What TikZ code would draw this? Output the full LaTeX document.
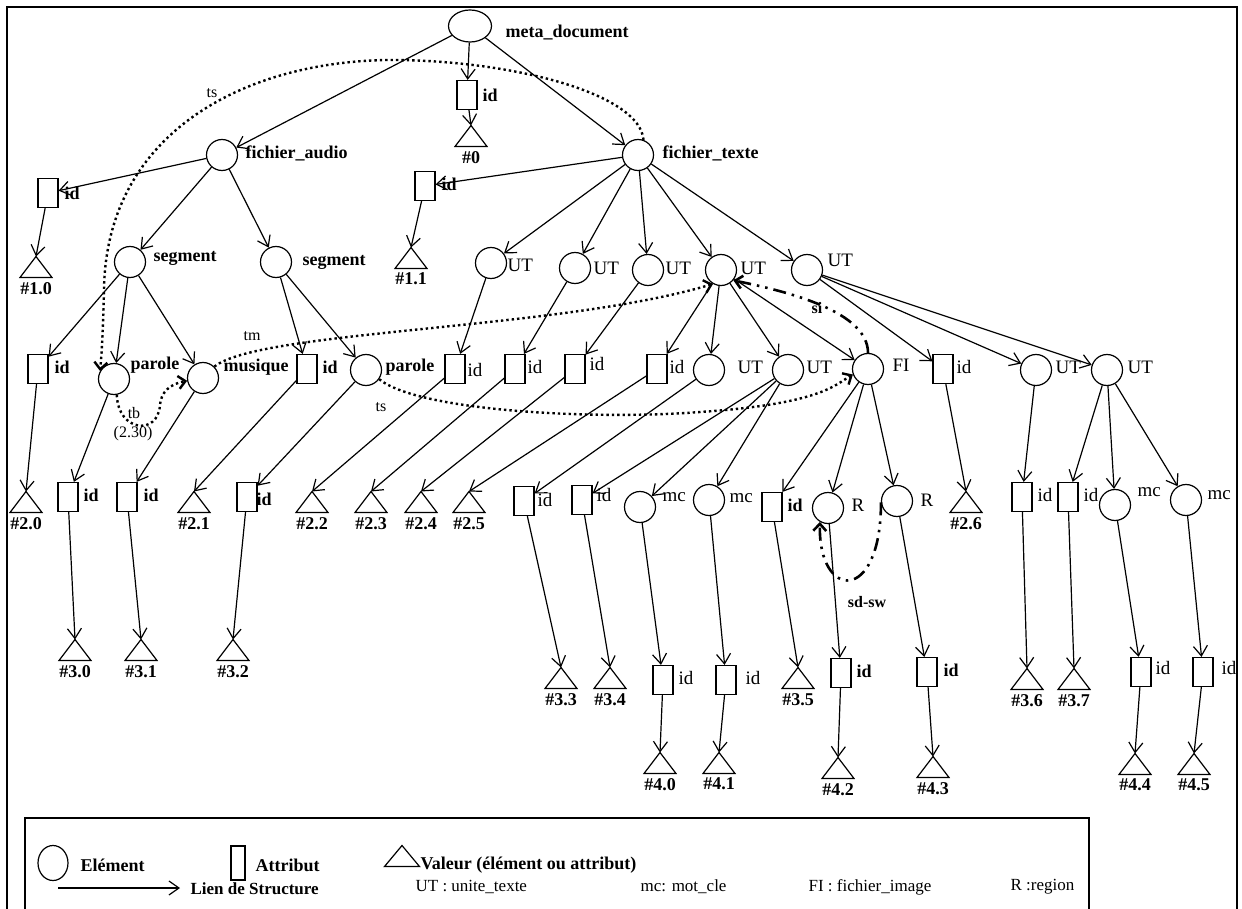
\documentclass[tikz,border=0pt]{standalone}
\usepackage{fontspec}
\setmainfont{Liberation Serif}
\usetikzlibrary{arrows.meta, positioning, shapes.geometric}

\begin{document}
\begin{tikzpicture}[x=1pt, y=-1pt, line width=1.2pt,
  el/.style={draw, ellipse, minimum width=31pt, minimum height=31pt, inner sep=0pt},
  att/.style={draw, rectangle, minimum width=20pt, minimum height=29pt, inner sep=0pt},
  val/.style={minimum width=32pt, minimum height=21pt, inner sep=0pt, outer sep=0pt,
    append after command={\pgfextra{\draw (\tikzlastnode.south west) -- (\tikzlastnode.north) -- (\tikzlastnode.south east) -- cycle;}}},
  lab/.style={font=\fontsize{18}{20}\selectfont\bfseries, inner sep=0pt, anchor=west},
  lbl/.style={font=\fontsize{19}{21}\selectfont, inner sep=0pt, anchor=west},
  vlab/.style={font=\fontsize{18}{20}\selectfont\bfseries, inner sep=0pt},
  rel/.style={font=\fontsize{16}{18}\selectfont, inner sep=0pt},
  relb/.style={font=\fontsize{16}{18}\selectfont\bfseries, inner sep=0pt},
  leg/.style={font=\fontsize{18}{20}\selectfont\bfseries, inner sep=0pt, anchor=west},
  legr/.style={font=\fontsize{17}{19}\selectfont, inner sep=0pt, anchor=west},
  a/.style={-{Straight Barb[length=10pt, width=14pt]}},
  dotlink/.style={line width=2.4pt, dash pattern=on 2.4pt off 3pt,
    -{Straight Barb[length=7pt, width=13pt, line width=2.4pt]}},
  dashlink/.style={line width=2.6pt, dash pattern=on 13pt off 6pt on 2.5pt off 6pt on 2.5pt off 6pt,
    -{Straight Barb[length=7pt, width=13pt, line width=2.6pt]}}
]
\useasboundingbox (0,0) rectangle (1242,909);
\draw[line width=2.2pt] (7,909) -- (7,7) -- (1237,7) -- (1237,909);

% racine
\node[el, minimum width=43pt, minimum height=32pt] (meta) at (470,26) {};
\node[att] (id0) at (467,95) {};
\node[val] (v0) at (471,136) {};
\node[el] (fa) at (222,155) {};
\node[el] (ft) at (638,155) {};
\node[att] (ida) at (48,193) {};
\node[val] (v10) at (36,267) {};
\node[att] (idt) at (425,186) {};
\node[val] (v11) at (411,258) {};

% niveau segments / UT
\node[el] (sg1) at (130,262) {};
\node[el] (sg2) at (276,262) {};
\node[el] (uta) at (491,263) {};
\node[el] (utb) at (575,268) {};
\node[el] (utc) at (648,270) {};
\node[el] (utd) at (721,270) {};
\node[el] (ute) at (807,270) {};

% troisieme niveau
\node[att] (id20) at (38,369) {};
\node[el] (p1) at (114,379) {};
\node[el] (mu) at (203,378) {};
\node[att] (id21) at (307,369) {};
\node[el] (p2) at (366,370) {};
\node[att] (id22) at (455,369) {};
\node[att] (id23) at (515,369) {};
\node[att] (id24) at (575,369) {};
\node[att] (id25) at (657,369) {};
\node[el] (utf) at (709,370) {};
\node[el] (utg) at (788,370) {};
\node[el] (fi) at (868,369) {};
\node[att] (id26) at (943,369) {};
\node[el] (uth) at (1036,370) {};
\node[el] (uti) at (1107,370) {};

% quatrieme niveau
\node[val] (v20) at (26,502) {};
\node[att] (id30) at (68,497) {};
\node[att] (id31) at (127,497) {};
\node[val] (v21) at (194,502) {};
\node[att] (id32) at (247,497) {};
\node[val] (v22) at (312,502) {};
\node[val] (v23) at (371,502) {};
\node[val] (v24) at (421,502) {};
\node[val] (v25) at (469,502) {};
\node[att] (id33) at (524,501) {};
\node[att] (id34) at (582,500) {};
\node[el] (mc1) at (640,507) {};
\node[el] (mc2) at (709,500) {};
\node[att] (id35) at (772,507) {};
\node[el] (r1) at (828,508) {};
\node[el] (r2) at (897,501) {};
\node[val] (v26) at (966,502) {};
\node[att] (id36) at (1022,497) {};
\node[att] (id37) at (1068,497) {};
\node[el] (mc3) at (1115,505) {};
\node[el] (mc4) at (1186,500) {};

% cinquieme niveau
\node[val] (v30) at (75,650) {};
\node[val] (v31) at (141,650) {};
\node[val] (v32) at (233,650) {};
\node[val] (v33) at (561,678) {};
\node[val] (v34) at (610,678) {};
\node[att] (id40) at (663,680) {};
\node[att] (id41) at (726,680) {};
\node[val] (v35) at (798,678) {};
\node[att] (id42) at (841,673) {};
\node[att] (id43) at (927,672) {};
\node[val] (v36) at (1027,679) {};
\node[val] (v37) at (1074,679) {};
\node[att] (id44) at (1141,672) {};
\node[att] (id45) at (1203,672) {};
\node[val] (v40) at (660,763) {};
\node[val] (v41) at (719,763) {};
\node[val] (v42) at (838,768) {};
\node[val] (v43) at (933,767) {};
\node[val] (v44) at (1135,764) {};
\node[val] (v45) at (1194,764) {};

% etiquettes
\node[lab] (lmeta) at (505,33) {meta\_document};
\node[lab] (lid0) at (482,95) {id};
\node[lab] (lfa) at (245,153) {fichier\_audio};
\node[lab] (lft) at (662,153) {fichier\_texte};
\node[lab] (lida) at (64,193) {id};
\node[lab] (lidt) at (441,184) {id};
\node[lab] (lsg1) at (153,258) {segment};
\node[lab] (lsg2) at (302,262) {segment};
\node[lbl] (luta) at (507,265) {UT};
\node[lbl] (lutb) at (593,268) {UT};
\node[lbl] (lutc) at (665,268) {UT};
\node[lbl] (lutd) at (740,268) {UT};
\node[lbl] (lute) at (827,260) {UT};
\node[lab] (lid20) at (54,367) {id};
\node[lab] (lp1) at (130,365) {parole};
\node[lab] (lmu) at (223,367) {musique};
\node[lab] (lid21) at (322,367) {id};
\node[lab] (lp2) at (385,367) {parole};
\node[lbl] (lid22) at (467,370) {id};
\node[lbl] (lid23) at (527,367) {id};
\node[lbl] (lid24) at (589,364) {id};
\node[lbl] (lid25) at (669,367) {id};
\node[lbl] (lutf) at (737,367) {UT};
\node[lbl] (lutg) at (806,367) {UT};
\node[lbl] (lfi) at (892,365) {FI};
\node[lbl] (lid26) at (956,367) {id};
\node[lbl] (luth) at (1055,367) {UT};
\node[lbl] (luti) at (1127,367) {UT};
\node[lab] (lid30) at (83,495) {id};
\node[lab] (lid31) at (143,495) {id};
\node[lab] (lid32) at (256,499) {id};
\node[lbl] (lid33) at (537,500) {id};
\node[lbl] (lid34) at (596,495) {id};
\node[lbl] (lmc1) at (662,497) {mc};
\node[lbl] (lmc2) at (729,498) {mc};
\node[lab] (lid35) at (787,505) {id};
\node[lbl] (lr1) at (851,505) {R};
\node[lbl] (lr2) at (920,500) {R};
\node[lbl] (lid36) at (1037,495) {id};
\node[lbl] (lid37) at (1083,495) {id};
\node[lbl] (lmc3) at (1137,492) {mc};
\node[lbl] (lmc4) at (1207,495) {mc};
\node[lbl] (lid40) at (678,678) {id};
\node[lbl] (lid41) at (745,678) {id};
\node[lab] (lid42) at (856,671) {id};
\node[lab] (lid43) at (943,670) {id};
\node[lbl] (lid44) at (1155,668) {id};
\node[lbl] (lid45) at (1221,668) {id};

% valeurs
\node[vlab, below=4pt of v0] (lv0) {\#0};
\node[vlab, below=4pt of v10] (lv10) {\#1.0};
\node[vlab, below=4pt of v11] (lv11) {\#1.1};
\node[vlab, below=4pt of v20] (lv20) {\#2.0};
\node[vlab, below=4pt of v21] (lv21) {\#2.1};
\node[vlab, below=4pt of v22] (lv22) {\#2.2};
\node[vlab, below=4pt of v23] (lv23) {\#2.3};
\node[vlab, below=4pt of v24] (lv24) {\#2.4};
\node[vlab, below=4pt of v25] (lv25) {\#2.5};
\node[vlab, below=4pt of v26] (lv26) {\#2.6};
\node[vlab, below=4pt of v30] (lv30) {\#3.0};
\node[vlab, below=4pt of v31] (lv31) {\#3.1};
\node[vlab, below=4pt of v32] (lv32) {\#3.2};
\node[vlab, below=4pt of v33] (lv33) {\#3.3};
\node[vlab, below=4pt of v34] (lv34) {\#3.4};
\node[vlab, below=4pt of v35] (lv35) {\#3.5};
\node[vlab, below=4pt of v36] (lv36) {\#3.6};
\node[vlab, below=4pt of v37] (lv37) {\#3.7};
\node[vlab, below=4pt of v40] (lv40) {\#4.0};
\node[vlab, below=4pt of v41] (lv41) {\#4.1};
\node[vlab, below=4pt of v42] (lv42) {\#4.2};
\node[vlab, below=4pt of v43] (lv43) {\#4.3};
\node[vlab, below=4pt of v44] (lv44) {\#4.4};
\node[vlab, below=4pt of v45] (lv45) {\#4.5};

% liens de structure
\draw[a] (meta) -- (fa);
\draw[a] (meta) -- (id0);
\draw[a] (meta) -- (ft);
\draw[a] (id0) -- (v0.north);
\draw[a] (fa) -- (ida);
\draw[a] (fa) -- (sg1);
\draw[a] (fa) -- (sg2);
\draw[a] (ida) -- (v10.north);
\draw[a] (ft) -- (idt);
\draw[a] (ft) -- (uta);
\draw[a] (ft) -- (utb);
\draw[a] (ft) -- (utc);
\draw[a] (ft) -- (utd);
\draw[a] (ft) -- (ute);
\draw[a] (idt) -- (v11.north);
\draw[a] (sg1) -- (id20);
\draw[a] (sg1) -- (p1);
\draw[a] (sg1) -- (mu);
\draw[a] (sg2) -- (id21);
\draw[a] (sg2) -- (p2);
\draw[a] (id20) -- (v20.north);
\draw[a] (p1) -- (id30);
\draw[a] (mu) -- (id31);
\draw[a] (id21) -- (v21.north);
\draw[a] (p2) -- (id32);
\draw[a] (uta) -- (id22);
\draw[a] (utb) -- (id23);
\draw[a] (utc) -- (id24);
\draw[a] (utd) -- (id25);
\draw[a] (utd) -- (utf);
\draw[a] (utd) -- (utg);
\draw[a] (utd) -- (fi);
\draw[a] (id22) -- (v22.north);
\draw[a] (id23) -- (v23.north);
\draw[a] (id24) -- (v24.north);
\draw[a] (id25) -- (v25.north);
\draw[a] (utf) -- (id33);
\draw[a] (utg) -- (id34);
\draw[a] (utg) -- (mc1);
\draw[a] (utg) -- (mc2);
\draw[a] (fi) -- (id35);
\draw[a] (fi) -- (r1);
\draw[a] (fi) -- (r2);
\draw[a] (ute) -- (id26);
\draw[a] (ute) -- (uth);
\draw[a] (ute) -- (uti);
\draw[a] (id26) -- (v26.north);
\draw[a] (uth) -- (id36);
\draw[a] (uti) -- (id37);
\draw[a] (uti) -- (mc3);
\draw[a] (uti) -- (mc4);
\draw[a] (id30) -- (v30.north);
\draw[a] (id31) -- (v31.north);
\draw[a] (id32) -- (v32.north);
\draw[a] (id33) -- (v33.north);
\draw[a] (id34) -- (v34.north);
\draw[a] (mc1) -- (id40);
\draw[a] (mc2) -- (id41);
\draw[a] (id35) -- (v35.north);
\draw[a] (r1) -- (id42);
\draw[a] (r2) -- (id43);
\draw[a] (id36) -- (v36.north);
\draw[a] (id37) -- (v37.north);
\draw[a] (mc3) -- (id44);
\draw[a] (mc4) -- (id45);
\draw[a] (id40) -- (v40.north);
\draw[a] (id41) -- (v41.north);
\draw[a] (id42) -- (v42.north);
\draw[a] (id43) -- (v43.north);
\draw[a] (id44) -- (v44.north);
\draw[a] (id45) -- (v45.north);

% liens temporels et spatiaux
\draw[dotlink] (ft.70) .. controls (640,95) and (520,62) .. (400,60)
  .. controls (250,58) and (106,130) .. (104,290)
  .. controls (103,330) and (102,350) .. (p1.150);
\node[rel] (lts1) at (212,93) {ts};
\draw[dotlink] (mu.45) .. controls (260,330) and (560,330) .. (utd.240);
\node[rel] (ltm) at (252,336) {tm};
\draw[dotlink] (p2.-35) .. controls (420,412) and (600,420) .. (700,412)
  .. controls (820,404) and (835,385) .. (fi.200);
\node[rel] (lts2) at (381,407) {ts};
\draw[dotlink] (p1.-80) .. controls (118,432) and (158,436) .. (160,405)
  .. controls (161,392) and (170,384) .. (mu.190);
\node[rel] (ltb) at (134,413) {tb};
\node[rel] (l230) at (133,434) {(2.30)};
\draw[dashlink] (fi.north) .. controls (868,312) and (790,292) .. (utd.-40);
\node[relb] (lsi) at (817,308) {si};
\draw[dashlink] (r2.185) .. controls (881,605) and (818,600) .. (r1.240);
\node[relb] (lsdsw) at (867,602) {sd-sw};

% legende
\draw[line width=1.2pt] (25,909) -- (25,818) -- (1089,818) -- (1089,909);
\node[el, minimum width=30pt, minimum height=35pt] (legel) at (53,863) {};
\node[leg] (legeltx) at (80,865) {Elément};
\node[att, minimum width=14pt, minimum height=34pt] (legatt) at (238,863) {};
\node[leg] (legatttx) at (255,865) {Attribut};
\node[val, minimum width=35pt] (legval) at (402,856) {};
\node[leg] (legvaltx) at (420,865) {Valeur (élément ou attribut)};
\coordinate (legl1) at (58,888);
\coordinate (legl2) at (180,888);
\draw[a] (legl1) -- (legl2);
\node[leg, font=\fontsize{17}{19}\selectfont\bfseries] (leglien) at (190,889) {Lien de Structure};
\node[legr] (legut) at (415,887) {UT : unite\_texte};
\node[legr] (legmc) at (640,887) {mc: mot\_cle};
\node[legr] (legfi) at (808,887) {FI : fichier\_image};
\node[legr] (legrg) at (1010,887) {R :region};
\end{tikzpicture}
\end{document}
